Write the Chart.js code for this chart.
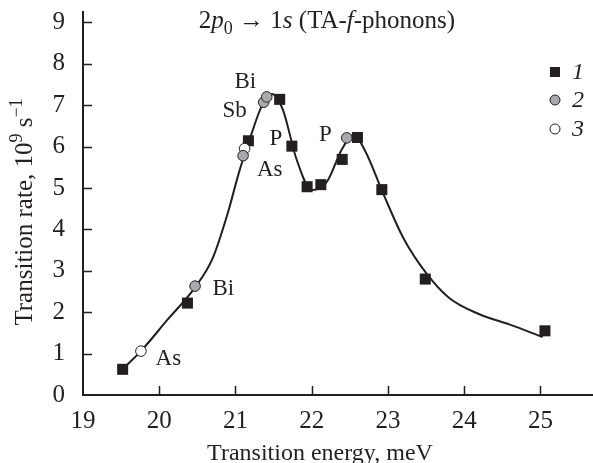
<!DOCTYPE html>
<html>
<head>
<meta charset="utf-8">
<script src="https://cdn.jsdelivr.net/npm/chart.js@4.4.1/dist/chart.umd.min.js"></script>
<style>
  html, body { margin: 0; padding: 0; background: #fff; }
  #wrap { width: 593px; height: 463px; }
</style>
</head>
<body>
<div id="wrap"><canvas id="rateChart" width="593" height="463"></canvas></div>
<script>
// axis ticks
const xTicks = [19, 20, 21, 22, 23, 24, 25];
const yTicks = [0, 1, 2, 3, 4, 5, 6, 7, 8, 9];

// series 1 (black squares)
const sqX = [19.52, 20.37, 21.17, 21.58, 21.74, 21.94, 22.12, 22.40, 22.60, 22.92, 23.49, 25.06];
const sqY = [0.62, 2.22, 6.14, 7.14, 6.01, 5.03, 5.08, 5.69, 6.22, 4.96, 2.80, 1.55];

// series 2 (grey circles)
const grayX = [20.47, 21.10, 21.37, 21.41, 22.46];
const grayY = [2.63, 5.78, 7.07, 7.20, 6.21];

// series 3 (open circles)
const openX = [19.76, 21.12];
const openY = [1.06, 5.95];

// smooth guide curve
const curveX = [19.55, 19.76, 20.1, 20.47, 20.7, 20.9, 21.05, 21.2, 21.35, 21.48, 21.62, 21.8, 22.0, 22.2, 22.4, 22.55, 22.7, 22.93, 23.2, 23.5, 23.8, 24.2, 24.6, 25.03];
const curveY = [0.68, 1.06, 1.8, 2.6, 3.3, 4.4, 5.4, 6.25, 7.0, 7.27, 6.9, 5.7, 4.95, 5.15, 5.95, 6.28, 5.9, 4.9, 3.8, 2.95, 2.35, 1.95, 1.7, 1.4];

// impurity labels, anchored in data coordinates
const noteText = ['Bi', 'Sb', 'P', 'As', 'P', 'Bi', 'As'];
const noteX = [21.13, 20.99, 21.53, 21.45, 22.18, 20.84, 20.12];
const noteY = [7.55, 6.87, 6.18, 5.44, 6.29, 2.57, 0.88];

const legendNames = ['1', '2', '3'];

const INK = '#231f20';
const SERIF = '"Liberation Serif", "DejaVu Serif", serif';

function toPoints(xs, ys) {
    return xs.map((x, i) => ({ x: x, y: ys[i] }));
}

const decorPlugin = {
    id: 'decor',
    afterDraw(chart) {
        const ctx = chart.ctx;
        const xs = chart.scales.x;
        const ys = chart.scales.y;
        const area = chart.chartArea;

        ctx.save();
        ctx.strokeStyle = INK;
        ctx.fillStyle = INK;

        // inward tick marks
        ctx.lineWidth = 1.5;
        ctx.beginPath();
        yTicks.slice(1).forEach(v => {
            const py = Math.round(ys.getPixelForValue(v)) + 0.5;
            ctx.moveTo(area.left, py);
            ctx.lineTo(area.left + 9, py);
        });
        xTicks.slice(1).forEach(v => {
            const px = Math.round(xs.getPixelForValue(v)) + 0.5;
            ctx.moveTo(px, area.bottom);
            ctx.lineTo(px, area.bottom - 9);
        });
        ctx.stroke();

        // title with mixed italics
        const pieces = [
            { t: '2', st: '' },
            { t: 'p', st: 'italic ' },
            { t: '0', st: '', sub: true },
            { t: ' \u2192 1', st: '' },
            { t: 's', st: 'italic ' },
            { t: ' (TA-', st: '' },
            { t: 'f', st: 'italic ' },
            { t: '-phonons)', st: '' }
        ];
        drawRich(ctx, pieces, 327, 28, 25);

        // impurity labels
        ctx.font = '23px ' + SERIF;
        ctx.textAlign = 'center';
        ctx.textBaseline = 'middle';
        noteText.forEach((t, i) => {
            ctx.fillText(t, xs.getPixelForValue(noteX[i]), ys.getPixelForValue(noteY[i]));
        });

        // legend
        const lx = 555, ly = [72, 100, 129];
        ctx.fillStyle = INK;
        ctx.fillRect(lx - 5, ly[0] - 5, 10, 10);
        ctx.lineWidth = 1;
        ctx.beginPath();
        ctx.arc(lx, ly[1], 5, 0, Math.PI * 2);
        ctx.fillStyle = '#a7a9ac';
        ctx.fill();
        ctx.stroke();
        ctx.beginPath();
        ctx.arc(lx, ly[2], 5, 0, Math.PI * 2);
        ctx.fillStyle = '#fff';
        ctx.fill();
        ctx.stroke();
        ctx.fillStyle = INK;
        ctx.font = 'italic 24px ' + SERIF;
        ctx.textAlign = 'left';
        ctx.textBaseline = 'middle';
        legendNames.forEach((n, i) => ctx.fillText(n, lx + 17, ly[i] + 1));

        // axis titles
        ctx.font = '24px ' + SERIF;
        ctx.textAlign = 'center';
        ctx.textBaseline = 'alphabetic';
        ctx.fillText('Transition energy, meV', 320, 460);

        ctx.save();
        ctx.translate(32, 212);
        ctx.rotate(-Math.PI / 2);
        drawRich(ctx, [
            { t: 'Transition rate, 10', st: '' },
            { t: '9', st: '', sup: true },
            { t: ' s', st: '' },
            { t: '\u22121', st: '', sup: true }
        ], 0, 0, 25);
        ctx.restore();

        ctx.restore();
    }
};

function drawRich(ctx, pieces, cx, baseline, size) {
    const small = Math.round(size * 0.7);
    let total = 0;
    pieces.forEach(p => {
        ctx.font = p.st + ((p.sub || p.sup) ? small : size) + 'px ' + SERIF;
        p.w = ctx.measureText(p.t).width;
        total += p.w;
    });
    let x = cx - total / 2;
    ctx.textAlign = 'left';
    ctx.textBaseline = 'alphabetic';
    pieces.forEach(p => {
        ctx.font = p.st + ((p.sub || p.sup) ? small : size) + 'px ' + SERIF;
        let y = baseline;
        if (p.sub) y += size * 0.22;
        if (p.sup) y -= size * 0.42;
        ctx.fillText(p.t, x, y);
        x += p.w;
    });
}

// drop the extra room Chart.js keeps for edge labels
function noEdgePadding(scale) {
    scale.paddingTop = 0;
    scale.paddingBottom = 0;
    scale.paddingLeft = 0;
    scale.paddingRight = 0;
}

const ctx = document.getElementById('rateChart').getContext('2d');

new Chart(ctx, {
    type: 'scatter',
    data: {
        datasets: [
            {
                label: 'fit',
                type: 'line',
                data: toPoints(curveX, curveY),
                borderColor: INK,
                borderWidth: 2,
                pointRadius: 0,
                cubicInterpolationMode: 'monotone',
                fill: false,
                order: 4
            },
            {
                label: '1',
                data: toPoints(sqX, sqY),
                pointStyle: 'rect',
                pointRadius: 7.8,
                backgroundColor: INK,
                borderColor: INK,
                borderWidth: 0,
                order: 3
            },
            {
                label: '2',
                data: toPoints(grayX, grayY),
                pointStyle: 'circle',
                pointRadius: 5.3,
                backgroundColor: '#a7a9ac',
                borderColor: INK,
                borderWidth: 1,
                order: 1
            },
            {
                label: '3',
                data: toPoints(openX, openY),
                pointStyle: 'circle',
                pointRadius: 5.3,
                backgroundColor: '#ffffff',
                borderColor: INK,
                borderWidth: 1,
                order: 2
            }
        ]
    },
    options: {
        responsive: false,
        animation: false,
        devicePixelRatio: 1,
        layout: { autoPadding: false, padding: { top: 12, right: 0, left: 0, bottom: 0 } },
        plugins: {
            legend: { display: false },
            tooltip: { enabled: false },
            title: { display: false }
        },
        scales: {
            x: {
                type: 'linear',
                min: 19,
                max: 25.69,
                afterBuildTicks: scale => { scale.ticks = xTicks.map(v => ({ value: v })); },
                afterFit: scale => { scale.height = 68; noEdgePadding(scale); },
                grid: { display: false },
                border: { display: true, color: INK, width: 2 },
                ticks: {
                    color: INK,
                    font: { family: SERIF, size: 25 },
                    padding: 3,
                    maxRotation: 0,
                    autoSkip: false
                }
            },
            y: {
                min: 0,
                max: 9.25,
                afterBuildTicks: scale => { scale.ticks = yTicks.map(v => ({ value: v })); },
                afterFit: scale => { scale.width = 83; noEdgePadding(scale); },
                grid: { display: false },
                border: { display: true, color: INK, width: 2 },
                ticks: {
                    color: INK,
                    font: { family: SERIF, size: 25 },
                    padding: 10,
                    autoSkip: false
                }
            }
        }
    },
    plugins: [decorPlugin]
});
</script>
</body>
</html>
